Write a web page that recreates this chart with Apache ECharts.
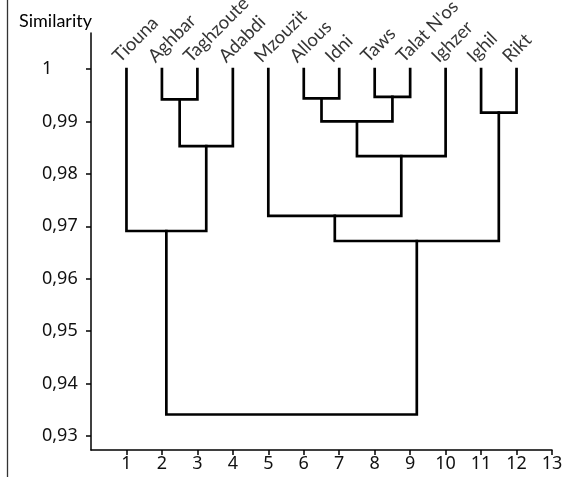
<!DOCTYPE html>
<html>
<head>
<meta charset="utf-8">
<script src="https://cdn.jsdelivr.net/npm/echarts@6/dist/echarts.min.js"></script>
<style>
html,body{margin:0;padding:0;background:#fff;}
#chart{width:571px;height:477px;}
</style>
</head>
<body>
<div id="chart"></div>
<script>
// Leaves (x position = index + 1)
const leafNames = ['Tiouna', 'Aghbar', 'Taghzoute', 'Adabdi', 'Mzouzit', 'Allous', 'Idni', 'Taws', "Talat N'os", 'Ighzer', 'Ighil', 'Rikt'];
const leafSimilarity = 1;
// Merges: node ids 0..11 are leaves, merge k creates node 12 + k
const mergeLeft  = [1, 12, 0, 5, 7, 15, 17, 4, 10, 19, 14];
const mergeRight = [2, 3, 13, 6, 8, 16, 9, 18, 11, 20, 21];
const mergeSimilarity = [0.9942, 0.9853, 0.9691, 0.9944, 0.9947, 0.9900, 0.9834, 0.9720, 0.9917, 0.9672, 0.9341];
// Axis ticks
const xTicks = [1, 2, 3, 4, 5, 6, 7, 8, 9, 10, 11, 12, 13];
const yTicks = [0.93, 0.94, 0.95, 0.96, 0.97, 0.98, 0.99, 1];
const yTickLabels = ['0,93', '0,94', '0,95', '0,96', '0,97', '0,98', '0,99', '1'];

const nodeX = leafNames.map((_, i) => i + 1);
const nodeY = leafNames.map(() => leafSimilarity);
const linkSeries = [];
mergeLeft.forEach((a, k) => {
  const b = mergeRight[k];
  const h = mergeSimilarity[k];
  nodeX.push((nodeX[a] + nodeX[b]) / 2);
  nodeY.push(h);
  linkSeries.push({
    type: 'line',
    data: [[nodeX[a], nodeY[a]], [nodeX[a], h], [nodeX[b], h], [nodeX[b], nodeY[b]]],
    symbol: 'none',
    silent: true,
    lineStyle: { color: '#000', width: 2.7, cap: 'square', join: 'miter' },
    z: 3
  });
});

const chart = echarts.init(document.getElementById('chart'), null, { renderer: 'canvas' });
chart.setOption({
  animation: false,
  backgroundColor: '#fff',
  title: {
    text: 'Similarity',
    left: 14, top: 7,
    textStyle: { fontFamily: 'Lato', fontWeight: 'normal', fontSize: 18, color: '#000' }
  },
  graphic: [{
    type: 'line',
    shape: { x1: 7.5, y1: 0, x2: 7.5, y2: 477 },
    style: { stroke: '#333', lineWidth: 1.3 }
  }],
  grid: { left: 91, right: 19, top: 33, bottom: 27, containLabel: false },
  xAxis: {
    type: 'value', min: 0, max: 13,
    axisLine: { show: true, lineStyle: { color: '#000', width: 1.5 } },
    axisTick: { show: true, length: 5, customValues: xTicks, lineStyle: { color: '#000', width: 1.5 } },
    axisLabel: { customValues: xTicks, margin: 5, fontFamily: 'Noto Sans', fontSize: 18, color: '#111' },
    splitLine: { show: false }
  },
  yAxis: {
    type: 'value', min: 0.92733, max: 1.00687,
    axisLine: { show: true, lineStyle: { color: '#000', width: 1.5 } },
    axisTick: { show: true, length: 5, customValues: yTicks, lineStyle: { color: '#000', width: 1.5 } },
    axisLabel: {
      customValues: yTicks, margin: 49, align: 'left',
      fontFamily: 'Noto Sans', fontSize: 18, color: '#111',
      formatter: v => yTickLabels[yTicks.findIndex(t => Math.abs(t - v) < 1e-6)]
    },
    splitLine: { show: false }
  },
  series: linkSeries.concat([{
    type: 'scatter',
    symbolSize: 0,
    silent: true,
    data: leafNames.map((n, i) => ({ value: [i + 1, leafSimilarity], name: n })),
    label: {
      show: true,
      formatter: p => p.name,
      position: [-4, -3],
      align: 'left',
      verticalAlign: 'bottom',
      rotate: 45,
      fontFamily: 'Lato',
      fontSize: 18.5,
      color: '#000'
    }
  }])
});
</script>
</body>
</html>
